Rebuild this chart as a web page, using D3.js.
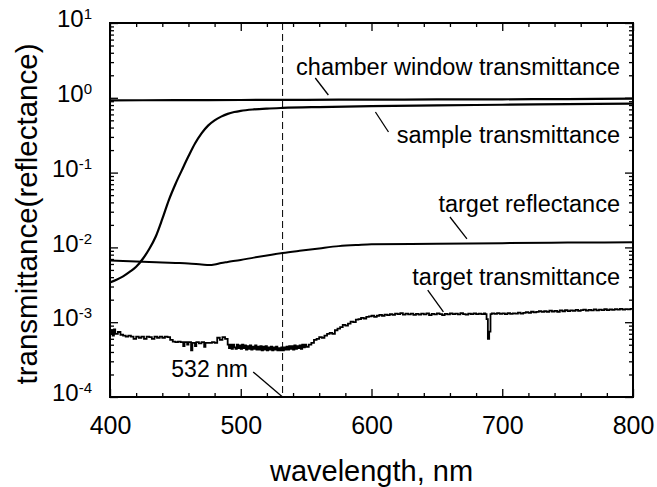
<!DOCTYPE html>
<html><head><meta charset="utf-8">
<script src="https://cdn.jsdelivr.net/npm/d3@7/dist/d3.min.js"></script>
<style>
html,body{margin:0;padding:0;background:#fff;}
svg{display:block;font-family:"Liberation Sans",Arial,Helvetica,sans-serif;}
</style></head>
<body><svg id="chart" width="657" height="487"></svg>
<script>
// ---------- data ----------
const xTicks = [400, 500, 600, 700, 800];
const yTickExps = [-4, -3, -2, -1, 0, 1];
const markerWavelength = 532;

const chamberWindow = [[400,0.925],[450,0.930],[500,0.935],[550,0.940],[600,0.945],[650,0.950],[700,0.955],[750,0.962],[800,0.972]];

const sampleTrans = [[400,0.0034],[405,0.0037],[410,0.0041],[415,0.0047],[420,0.0055],[425,0.0070],[430,0.0095],[435,0.0140],[440,0.024],[445,0.043],[450,0.070],[455,0.108],[460,0.165],[465,0.245],[470,0.335],[475,0.425],[480,0.500],[485,0.560],[490,0.610],[495,0.645],[500,0.670],[510,0.700],[520,0.718],[532,0.732],[560,0.752],[600,0.772],[650,0.792],[700,0.808],[750,0.822],[800,0.838]];

const targetRefl = [[400,0.0067],[410,0.0066],[420,0.0065],[430,0.0064],[440,0.0063],[450,0.0062],[460,0.0061],[470,0.0059],[476,0.0058],[480,0.0059],[485,0.0062],[490,0.0064],[500,0.0068],[510,0.0073],[520,0.0078],[532,0.0084],[545,0.0090],[560,0.0097],[575,0.0104],[590,0.0108],[600,0.0110],[650,0.0112],[700,0.0114],[750,0.0116],[800,0.0117]];

const targetTrans = [[400,0.00070],[401,0.00078],[402,0.00066],[403,0.00080],[404,0.00070],[406,0.00074],[408,0.00068],[410,0.00066],[412,0.00064],[414,0.00066],[416,0.00064],[418,0.00060],[420,0.00064],[422,0.00062],[424,0.00064],[426,0.00060],[428,0.00064],[430,0.00063],[432,0.00060],[434,0.00064],[436,0.00062],[438,0.00064],[440,0.00062],[442,0.00064],[444,0.00063],[446,0.00058],[448,0.00055],[450,0.00054],[452,0.00055],[454,0.00054],[456,0.00048],[457,0.00054],[459,0.00050],[460,0.00054],[462,0.00042],[463,0.00053],[465,0.00048],[466,0.00054],[468,0.00052],[470,0.00054],[472,0.00047],[473,0.00053],[476,0.00053],[478,0.00054],[480,0.00053],[482,0.00062],[484,0.00058],[486,0.00063],[488,0.00060],[490,0.00050],[491,0.00045],[492,0.00050],[493,0.00044],[494,0.00050],[495,0.00046],[496,0.00044],[497,0.00050],[498,0.00045],[499,0.00049],[500,0.00044],[501,0.00050],[502,0.00045],[503,0.00049],[504,0.00043],[505,0.00048],[506,0.00044],[507,0.00049],[508,0.00043],[509,0.00047],[510,0.00044],[511,0.00049],[512,0.00043],[513,0.00047],[514,0.00043],[515,0.00048],[516,0.00042],[517,0.00047],[518,0.00043],[519,0.00048],[520,0.00042],[521,0.00046],[522,0.00043],[523,0.00047],[524,0.00042],[525,0.00046],[526,0.00043],[527,0.00047],[528,0.00042],[529,0.00045],[530,0.00042],[531,0.00046],[532,0.00042],[533,0.00046],[534,0.00043],[535,0.00047],[536,0.00043],[537,0.00048],[538,0.00044],[539,0.00048],[540,0.00043],[541,0.00049],[542,0.00044],[543,0.00048],[544,0.00045],[545,0.00049],[546,0.00044],[547,0.00050],[548,0.00046],[549,0.00050],[550,0.00047],[552,0.00050],[554,0.00053],[556,0.00058],[558,0.00060],[560,0.00063],[562,0.00062],[564,0.00066],[566,0.00070],[568,0.00072],[570,0.00070],[572,0.00078],[574,0.00082],[576,0.00086],[578,0.00092],[580,0.00090],[582,0.00096],[584,0.00102],[586,0.00100],[588,0.00108],[590,0.00110],[592,0.00114],[594,0.00112],[596,0.00118],[598,0.00120],[600,0.00122],[602,0.00118],[604,0.00122],[606,0.00125],[608,0.00122],[610,0.00126],[612,0.00124],[614,0.00128],[616,0.00125],[618,0.00130],[620,0.00128],[622,0.00132],[624,0.00126],[626,0.00130],[628,0.00127],[630,0.00130],[632,0.00125],[634,0.00129],[636,0.00126],[638,0.00130],[640,0.00127],[642,0.00131],[644,0.00124],[646,0.00129],[648,0.00127],[650,0.00131],[652,0.00128],[654,0.00124],[656,0.00129],[658,0.00127],[660,0.00131],[662,0.00128],[664,0.00130],[666,0.00127],[668,0.00132],[670,0.00128],[672,0.00126],[674,0.00130],[676,0.00128],[678,0.00131],[680,0.00128],[682,0.00130],[684,0.00128],[686,0.00131],[687,0.00128],[688,0.00110],[689,0.00060],[690,0.00075],[691,0.00128],[692,0.00131],[694,0.00129],[696,0.00132],[698,0.00129],[700,0.00131],[702,0.00128],[704,0.00132],[706,0.00129],[708,0.00131],[710,0.00130],[712,0.00134],[714,0.00130],[716,0.00133],[718,0.00136],[720,0.00133],[722,0.00138],[724,0.00135],[726,0.00137],[728,0.00141],[730,0.00137],[732,0.00140],[734,0.00137],[736,0.00143],[738,0.00139],[740,0.00142],[742,0.00138],[744,0.00144],[746,0.00140],[748,0.00145],[750,0.00141],[752,0.00144],[754,0.00142],[756,0.00146],[758,0.00142],[760,0.00145],[762,0.00147],[764,0.00143],[766,0.00146],[768,0.00144],[770,0.00148],[772,0.00144],[774,0.00147],[776,0.00145],[778,0.00149],[780,0.00145],[782,0.00148],[784,0.00146],[786,0.00150],[788,0.00147],[790,0.00151],[792,0.00147],[794,0.00150],[796,0.00148],[798,0.00151],[800,0.00152]];

// annotation labels (text end-anchored) and leader lines in data coordinates
const labelTexts = ["chamber window transmittance", "sample transmittance", "target reflectance", "target transmittance", "532 nm"];
const labelAnchorsW = [800, 800, 800, 800, 515.5];
const labelAnchorsV = [2.02, 0.249, 0.0297, 0.00314, 0.000185];
const leaderStart = [[557, 1.84], [603, 0.646], [660, 0.0255], [643, 0.00269], [509.5, 0.000216]];
const leaderEnd   = [[567, 1.09], [613, 0.349], [673, 0.0130], [655, 0.00137], [532, 0.0001]];

// ---------- layout ----------
const L = 110, R = 633, T = 23, B = 397;
const svg = d3.select("#chart");
const x = d3.scaleLinear().domain([400, 800]).range([L, R]);
const y = d3.scaleLog().domain([1e-4, 10]).range([B, T]);

const xMinor = d3.range(400, 801, 20).filter(v => v % 100 !== 0);
const yMinor = [];
for (let e = -4; e < 1; e++) for (let m = 2; m <= 9; m++) yMinor.push(m * Math.pow(10, e));
const yMajor = yTickExps.map(e => Math.pow(10, e));

function styleAxis(g){ g.select(".domain").remove(); g.selectAll("line").attr("stroke","#000").attr("stroke-width",1.3); }

// bottom
svg.append("g").attr("transform",`translate(0,${B})`)
  .call(d3.axisBottom(x).tickValues(xMinor).tickSize(-4).tickFormat(""))
  .call(styleAxis);
svg.append("g").attr("transform",`translate(0,${B})`)
  .call(d3.axisBottom(x).tickValues(xTicks).tickSizeInner(-8).tickSizeOuter(0).tickPadding(19).tickFormat(d3.format("d")))
  .call(styleAxis)
  .call(g => g.selectAll("text").attr("font-size","25px").attr("fill","#000").attr("font-family","Liberation Sans, Arial, sans-serif"));
// top
svg.append("g").attr("transform",`translate(0,${T})`)
  .call(d3.axisTop(x).tickValues(xMinor).tickSize(-4).tickFormat("")).call(styleAxis);
svg.append("g").attr("transform",`translate(0,${T})`)
  .call(d3.axisTop(x).tickValues(xTicks).tickSize(-8).tickFormat("")).call(styleAxis);
// left
svg.append("g").attr("transform",`translate(${L},0)`)
  .call(d3.axisLeft(y).tickValues(yMinor).tickSize(-4).tickFormat("")).call(styleAxis);
const yAx = svg.append("g").attr("transform",`translate(${L},0)`)
  .call(d3.axisLeft(y).tickValues(yMajor).tickSizeInner(-8).tickSizeOuter(0).tickPadding(18).tickFormat(""))
  .call(styleAxis);
yAx.selectAll(".tick text").each(function(d, i){
  const t = d3.select(this).attr("font-family","Liberation Sans, Arial, sans-serif").attr("fill","#000").attr("dy","0.36em");
  t.append("tspan").attr("font-size","24px").text("10");
  t.append("tspan").attr("font-size","15px").attr("dy","-8").text(String(yTickExps[i]));
});
// right
svg.append("g").attr("transform",`translate(${R},0)`)
  .call(d3.axisRight(y).tickValues(yMinor).tickSize(-4).tickFormat("")).call(styleAxis);
svg.append("g").attr("transform",`translate(${R},0)`)
  .call(d3.axisRight(y).tickValues(yMajor).tickSize(-8).tickFormat("")).call(styleAxis);

// frame
svg.append("rect").attr("x",L).attr("y",T).attr("width",R-L).attr("height",B-T)
  .attr("fill","none").attr("stroke","#000").attr("stroke-width",2);

// dashed 532 line
svg.append("line").attr("x1",x(markerWavelength)).attr("x2",x(markerWavelength))
  .attr("y1",T).attr("y2",B).attr("stroke","#000").attr("stroke-width",1).attr("stroke-dasharray","7,4");

// curves
const smooth = d3.line().x(d => x(d[0])).y(d => y(d[1])).curve(d3.curveMonotoneX);
const stepLine = d3.line().x(d => x(d[0])).y(d => y(d[1])).curve(d3.curveStepAfter);
svg.append("clipPath").attr("id","clip").append("rect").attr("x",L).attr("y",T).attr("width",R-L).attr("height",B-T);
const plot = svg.append("g").attr("clip-path","url(#clip)");
plot.append("path").datum(chamberWindow).attr("d",smooth).attr("fill","none").attr("stroke","#000").attr("stroke-width",2.2);
plot.append("path").datum(sampleTrans).attr("d",smooth).attr("fill","none").attr("stroke","#000").attr("stroke-width",2.2);
plot.append("path").datum(targetRefl).attr("d",smooth).attr("fill","none").attr("stroke","#000").attr("stroke-width",2);
plot.append("path").datum(targetTrans).attr("d",stepLine).attr("fill","none").attr("stroke","#000").attr("stroke-width",1.8);

// annotations
labelTexts.forEach((txt, i) => {
  svg.append("text").attr("x", x(labelAnchorsW[i]) - 13).attr("y", y(labelAnchorsV[i])).attr("text-anchor","end")
    .attr("font-size", i === 4 ? "23px" : "23.5px").attr("fill","#000").text(txt);
  svg.append("line")
    .attr("x1", x(leaderStart[i][0])).attr("y1", y(leaderStart[i][1]))
    .attr("x2", x(leaderEnd[i][0])).attr("y2", y(leaderEnd[i][1]))
    .attr("stroke","#000").attr("stroke-width",1.3);
});

// axis titles
svg.append("text").attr("x",(L+R)/2).attr("y",481).attr("text-anchor","middle")
  .attr("font-size","29px").attr("fill","#000").text("wavelength, nm");
svg.append("text").attr("transform",`translate(37,214) rotate(-90)`).attr("text-anchor","middle")
  .attr("font-size","29.5px").attr("fill","#000").text("transmittance(reflectance)");
</script></body></html>
